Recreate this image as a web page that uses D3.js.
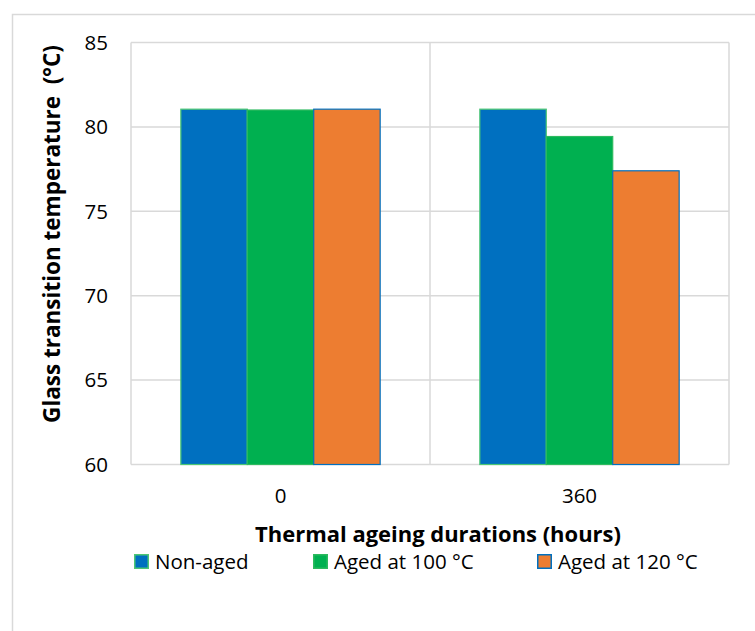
<!DOCTYPE html>
<html>
<head>
<meta charset="utf-8">
<script src="https://cdn.jsdelivr.net/npm/d3@7"></script>
<style>
  body { margin: 0; background: #fff; }
  text { font-family: "Open Sans", sans-serif; fill: #000; }
</style>
</head>
<body>
<div id="chart"></div>
<script>
// chart data
const categories = ["0", "360"];
const seriesNames = ["Non-aged", "Aged at 100 °C", "Aged at 120 °C"];
const nonAged = [81.05, 81.05];
const aged100 = [81.0, 79.43];
const aged120 = [81.05, 77.4];
const yTicks = [60, 65, 70, 75, 80, 85];

const seriesValues = [nonAged, aged100, aged120];
const fills = ["#0070C0", "#00B050", "#ED7D31"];
const strokes = ["#4CC774", "#2DBA5E", "#0070C0"];

const width = 755, height = 631;
const plot = { left: 131, right: 729, top: 42.5, bottom: 464.5 };

const svg = d3.select("#chart").append("svg")
    .attr("width", width)
    .attr("height", height);

// outer chart frame
svg.append("rect")
    .attr("x", 12.5).attr("y", 14.5)
    .attr("width", 780).attr("height", 660)
    .attr("fill", "none")
    .attr("stroke", "#D9D9D9")
    .attr("stroke-width", 1.5);

const x0 = d3.scaleBand()
    .domain(categories)
    .range([plot.left, plot.right]);

const x1 = d3.scaleBand()
    .domain(seriesNames)
    .range([0, x0.bandwidth()])
    .paddingOuter(0.75);

const y = d3.scaleLinear()
    .domain([60, 85])
    .range([plot.bottom, plot.top]);

// horizontal gridlines
svg.append("g").selectAll("line")
    .data(yTicks)
    .enter().append("line")
    .attr("x1", plot.left).attr("x2", plot.right)
    .attr("y1", d => y(d)).attr("y2", d => y(d))
    .attr("stroke", "#D9D9D9")
    .attr("stroke-width", 1.5);

// vertical gridlines at category boundaries
const bounds = categories.map(c => x0(c)).concat([plot.right]);
svg.append("g").selectAll("line")
    .data(bounds)
    .enter().append("line")
    .attr("x1", d => d).attr("x2", d => d)
    .attr("y1", plot.top).attr("y2", plot.bottom)
    .attr("stroke", "#D9D9D9")
    .attr("stroke-width", 1.5);

// bars
seriesNames.forEach((name, s) => {
    svg.append("g").selectAll("rect")
        .data(seriesValues[s])
        .enter().append("rect")
        .attr("x", (d, i) => x0(categories[i]) + x1(name))
        .attr("y", d => y(d))
        .attr("width", x1.bandwidth())
        .attr("height", d => y(60) - y(d))
        .attr("fill", fills[s])
        .attr("stroke", strokes[s])
        .attr("stroke-width", 1.2);
});

// y tick labels
svg.append("g").selectAll("text")
    .data(yTicks)
    .enter().append("text")
    .attr("x", 108)
    .attr("y", d => y(d))
    .attr("dy", "0.36em")
    .attr("text-anchor", "end")
    .style("font-size", "20.5px")
    .text(d => d);

// category labels
svg.append("g").selectAll("text")
    .data(categories)
    .enter().append("text")
    .attr("x", d => x0(d) + x0.bandwidth() / 2)
    .attr("y", 503)
    .attr("text-anchor", "middle")
    .style("font-size", "20.5px")
    .text(d => d);

// shrink/grow a text so it spans the wanted width
function fit(sel, target) {
    const w = sel.node().getComputedTextLength();
    const fs = parseFloat(sel.style("font-size"));
    sel.style("font-size", (fs * target / w) + "px");
}

// axis titles
const xTitle = svg.append("text")
    .attr("x", 438)
    .attr("y", 542)
    .attr("text-anchor", "middle")
    .style("font-weight", "bold")
    .style("font-size", "20px")
    .text("Thermal ageing durations (hours)");
fit(xTitle, 366);

const yTitle = svg.append("text")
    .attr("transform", "translate(60,234) rotate(-90)")
    .attr("text-anchor", "middle")
    .style("font-weight", "bold")
    .style("font-size", "20px")
    .style("white-space", "pre")
    .text("Glass transition temperature  (°C)");
fit(yTitle, 378);

// legend
const legendX = [134, 313, 537];
const legend = svg.append("g").selectAll("g")
    .data(seriesNames)
    .enter().append("g")
    .attr("transform", (d, i) => `translate(${legendX[i]},554)`);

legend.append("rect")
    .attr("x", 0.75).attr("y", 0.75)
    .attr("width", 13.5).attr("height", 13.5)
    .attr("fill", (d, i) => fills[i])
    .attr("stroke", (d, i) => strokes[i])
    .attr("stroke-width", 1.5);

legend.append("text")
    .attr("x", 21)
    .attr("y", 14.5)
    .style("font-size", "20.5px")
    .text(d => d);
</script>
</body>
</html>
